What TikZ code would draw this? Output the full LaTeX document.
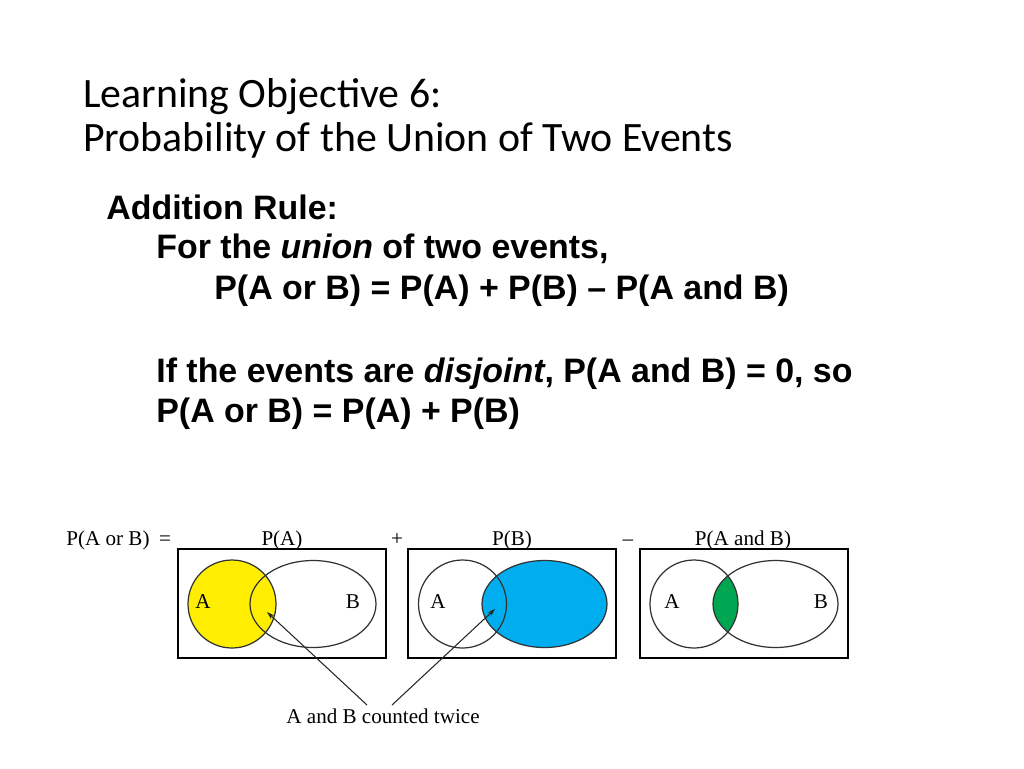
\documentclass[tikz,border=0pt]{standalone}
\usepackage{fontspec}
\setmainfont{Liberation Sans}
\newfontfamily\titlefont{Carlito}
\newfontfamily\venfont{Liberation Serif}
\usetikzlibrary{positioning,arrows.meta}
\definecolor{SetYellow}{RGB}{255,238,0}
\definecolor{SetBlue}{RGB}{0,174,239}
\definecolor{SetGreen}{RGB}{0,166,81}

\begin{document}
\begin{tikzpicture}[x=0.02cm,y=-0.02cm]
	\tikzset{
		ttl/.style={anchor=base west, inner sep=0pt, font=\titlefont\fontsize{23.8}{28}\selectfont},
		txt/.style={anchor=base west, inner sep=0pt, font=\bfseries\fontsize{19.3}{23}\selectfont},
		lbl/.style={anchor=base, inner sep=0pt, font=\venfont\fontsize{12}{14}\selectfont},
		box/.style={draw=black, line width=0.8pt, minimum width=4.16cm, minimum height=2.18cm, inner sep=0pt},
		rim/.style={draw=black!80, line width=0.7pt},
		ptr/.style={-{Stealth[length=4.5pt,width=2.8pt]}, line width=0.6pt, draw=black!85}
	}
	\useasboundingbox (0,0) rectangle (1024,768);
	
	% ======= Title and rule =======
	\node[ttl] (title1) at (83,107) {Learning Objective 6:};
	\node[ttl] (title2) at (83,151) {Probability of the Union of Two Events};
	\node[txt] (rule) at (106,219) {Addition Rule:};
	\node[txt] (union) at (156,258) {For the \textit{union} of two events,};
	\node[txt] (formula) at (214,299) {P(A or B) = P(A) + P(B) – P(A and B)};
	\node[txt] (disj) at (156,382) {If the events are \textit{disjoint}, P(A and B) = 0, so};
	\node[txt] (simple) at (156,422) {P(A or B) = P(A) + P(B)};
	
	% ======= Top labels =======
	\node[lbl] (lhs) at (108,545) {P(A or B)};
	\node[lbl] (eq) at (165,545) {=};
	\node[lbl] (pa) at (282,545) {P(A)};
	\node[lbl] (plus) at (397,545) {+};
	\node[lbl] (pb) at (512,545) {P(B)};
	\node[lbl] (minus) at (628,545) {–};
	\node[lbl] (pab) at (743,545) {P(A and B)};
	
	% ======= Box 1: P(A) =======
	\fill[SetYellow] (232,604) circle[radius=44];
	\draw[rim] (232,604) circle[radius=44];
	\draw[rim] (313,604) ellipse[x radius=63, y radius=43.5];
	\node[box] (box1) at (282,603.5) {};
	\node[lbl, anchor=center] (a1) at (203,602) {A};
	\node[lbl, anchor=center] (b1) at (353,602) {B};
	
	% ======= Box 2: P(B) =======
	\fill[SetBlue] (544.5,604) ellipse[x radius=62.5, y radius=43.5];
	\draw[rim] (462.5,604) circle[radius=44];
	\draw[rim] (544.5,604) ellipse[x radius=62.5, y radius=43.5];
	\node[box] (box2) at (512,603.5) {};
	\node[lbl, anchor=center] (a2) at (438,602) {A};
	
	% ======= Box 3: P(A and B) =======
	\begin{scope}
		\clip (694,604) circle[radius=44];
		\fill[SetGreen] (775.5,604) ellipse[x radius=62.5, y radius=43.5];
	\end{scope}
	\draw[rim] (694,604) circle[radius=44];
	\draw[rim] (775.5,604) ellipse[x radius=62.5, y radius=43.5];
	\node[box] (box3) at (744,603.5) {};
	\node[lbl, anchor=center] (a3) at (672,602) {A};
	\node[lbl, anchor=center] (b3) at (821,602) {B};
	
	% ======= Counted twice =======
	\node[lbl] (twice) at (383,723) {A and B counted twice};
	\coordinate (fromL) at (367,705);
	\coordinate (fromR) at (392,705);
	\coordinate (tipL) at (267,612);
	\coordinate (tipR) at (495,609);
	\draw[ptr] (fromL) -- (tipL);
	\draw[ptr] (fromR) -- (tipR);
\end{tikzpicture}
\end{document}
